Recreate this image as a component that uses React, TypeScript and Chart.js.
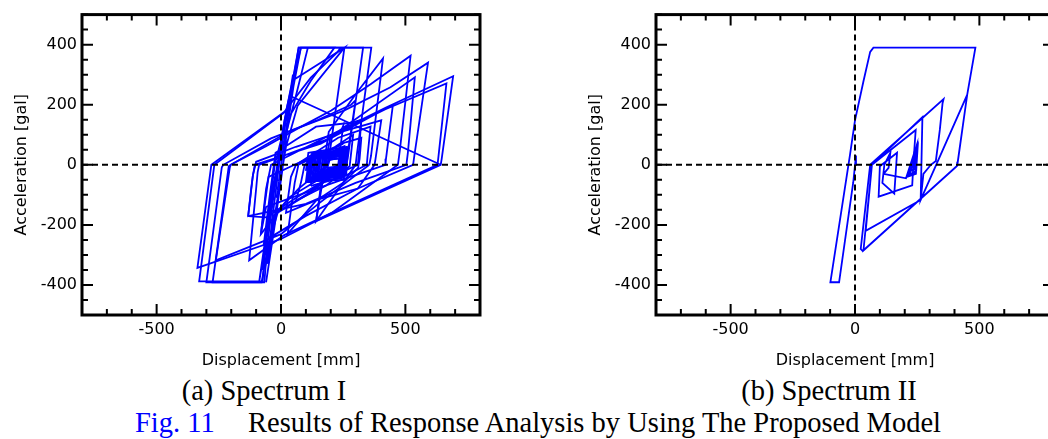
import React, { useEffect, useRef } from 'react';
import { Chart, registerables } from 'chart.js';

Chart.register(...registerables);

// ---- axes ----
const dispRange = [-800, 800];
const accRange = [-500, 500];
const dispStep = 100;
const accStep = 50;
const dispLabels = [-500, 0, 500];
const accLabels = [-400, -200, 0, 200, 400];

// ---- Spectrum I : displacement [mm], acceleration [gal] ----
const spec1Early: number[][] = [
  [0, 0], [8, 45], [-5, -35], [12, 68], [-9, -55], [18, 100], [-14, -85], [22, 125], [-18, -110], [26, 150],
  [45, 262], [60, 335], [71, 390], [255, 390], [195, 35], [188, 0], [70, -80], [-10, -150], [-45, -250],
  [-62, -340], [-67, -391], [-275, -391], [-210, -5], [-202, 0], [-60, 62], [81, 127], [202, 181], [360, 268],
  [521, 363], [478, 50], [470, 0], [202, -161], [0, -247], [-336, -343], [-280, 0], [13, 176], [120, 290],
  [228, 376], [240, 390], [363, 390], [305, 35], [300, 0], [141, -188], [172, 0], [192, 110], [300, 235],
  [410, 354], [362, 30], [355, 0],
];

const spec1Left: number[][] = [
  [355, 0], [150, -130], [0, -231], [-262, -318], [-206, -10], [-202, 0], [30, 110], [255, 181], [440, 258],
  [591, 340], [536, 30], [531, 0], [309, -79], [100, -170], [-60, -250], [-74, -388], [-329, -388],
  [-268, 0], [20, 178], [55, 305], [80, 390], [215, 390], [120, 280], [40, 170], [-30, -60], [-55, -200],
  [-88, -391], [-70, -300], [-40, -130], [0, 60], [40, 250], [71, 390], [108, 390], [60, 230], [0, 40],
  [-30, -100], [-60, -300], [-45, -200], [-20, -40], [10, 130], [35, 230], [642, 0],
];

const spec1Right: number[][] = [
  [642, 0], [141, -188], [178, 0], [200, 100], [420, 190], [692, 295], [646, 20], [642, 0],
  [141, -188], [175, 0], [200, 95], [420, 185], [665, 271], [632, 20], [629, 0], [202, -161],
  [13, -234], [-128, -318], [-100, -80], [-94, -25], [-88, 0], [181, 83], [538, 291], [510, 40],
  [504, 0], [300, -60], [100, -130], [-132, -171], [-113, -35], [-105, 0], [160, 70], [450, 200],
  [422, 20], [420, 0], [255, -47], [40, -110], [-60, -140], [-81, -231], [-60, -80], [-40, 0],
  [200, 100], [403, 148], [380, 20], [376, 0], [309, -79], [150, -115], [20, -160], [40, -40],
  [60, 0], [230, 90], [360, 127], [348, 30], [345, 0], [250, -40], [120, -70],
];

const spec1Mid: number[][] = [
  [-60, -391], [-25, -200], [5, -20], [25, 120], [50, 260], [80, 390], [330, 390], [268, 20], [262, 0],
  [120, -92], [-25, -165], [-52, -270], [-78, -391], [-300, -391], [-238, -8], [-232, 0], [-40, 88],
  [150, 150], [282, 200], [300, 215], [263, 10], [255, 0], [100, -100], [-20, -160], [-42, -265],
  [-75, -350], [-50, -200], [-15, 0], [15, 150], [45, 280], [255, 390], [67, 197], [20, 60], [-10, -90],
  [-38, -240], [-55, -330], [-35, -180], [-5, 20], [22, 160], [48, 300], [30, 180], [-25, 0], [-50, -160],
  [-70, -270], [-45, -100], [-22, 40], [141, 127], [282, 140], [323, 150], [316, 72], [309, 0], [200, -40],
  [80, -100], [-60, -175], [-132, -171],
];

const spec1Low: number[][] = [
  [-132, -171], [-120, -80], [-113, -35], [-100, 10], [60, 60], [240, 110], [250, 130], [236, 40], [230, 0],
  [150, -50], [30, -110], [-81, -231], [-70, -160], [-60, -100], [-50, -40], [80, 10], [260, 75], [323, 90],
  [316, 20], [310, -10], [250, -60], [140, -120], [27, -230], [40, -150], [55, -60], [70, 0], [200, 50],
  [290, 100], [282, 40], [276, -5], [180, -70], [60, -120], [80, -60], [95, 0], [180, 40], [250, 70],
];

const spec1Core: number[][] = [
  [120, -70], [135, 20], [255, 62], [250, -10], [245, -45], [100, -58], [112, 20], [268, 58], [262, -35],
  [108, -50], [122, 30], [260, 50], [252, -40], [115, -45], [130, 35], [270, 55], [258, -30], [125, -40],
  [138, 25], [250, 45], [242, -25], [135, -35], [148, 28], [262, 48], [255, -20], [145, -30], [155, 30],
  [258, 40], [250, -15], [150, -25], [162, 25], [245, 35], [240, -10], [160, -20], [170, 20], [236, 30],
  [232, -5], [180, -10], [190, 15], [228, 22],
];

const spec1Core2: number[][] = [
  [100, -20], [110, 40], [265, 60], [258, -10], [252, -50], [105, -55], [118, 25], [262, 55], [256, -35],
  [110, -42], [125, 38], [268, 48], [260, -28], [118, -48], [132, 30], [255, 52], [248, -38], [128, -52],
  [140, 22], [265, 44], [256, -22], [138, -40], [152, 34], [258, 46], [250, -30], [148, -45], [160, 28],
  [250, 40], [244, -20], [158, -32], [170, 32], [248, 36], [240, -26], [168, -28], [178, 26], [242, 30],
  [236, -12], [175, -20], [186, 22], [238, 28], [232, -8], [185, -14], [196, 18], [232, 20],
];

// ---- Spectrum II ----
const spec2Main: number[][] = [
  [0, 0], [4, 31], [-7, -58], [-64, -391], [-99, -391], [-20, 34], [0, 148], [34, 278], [61, 376], [74, 390],
  [484, 390], [451, 233], [413, 10], [411, -3], [31, -287], [23, -280], [61, 0], [356, 219], [352, 205],
  [341, 116], [325, 13], [305, 0], [275, -30], [264, -117], [451, 233], [413, 8], [409, -5], [34, -285],
  [68, 0], [271, 159], [264, -117], [43, -220], [68, 0], [244, 116], [236, 20], [230, -68], [95, -106],
  [100, -5], [169, 40], [158, -96], [110, -60], [118, 0], [142, 40], [135, -10], [115, -30],
];

const spec2Core: number[][] = [
  [115, -30], [205, -45], [250, 70], [245, -30], [210, -40], [252, 60], [246, -20], [215, -35], [250, 50],
  [242, -25], [220, -30], [248, 40], [238, -15], [225, -20], [245, 30], [235, -10],
];

const lineBlue = '#0000ff';
const sansFont = "'DejaVu Sans', sans-serif";

const framePlugin = {
  id: 'frameTicks',
  afterDatasetsDraw(chart: any) {
    const { ctx, chartArea: a, scales } = chart;
    const xs = scales.x;
    const ys = scales.y;
    ctx.save();
    ctx.strokeStyle = '#000';
    ctx.lineWidth = 2;
    ctx.setLineDash([6, 4]);
    const x0 = xs.getPixelForValue(0);
    const y0 = ys.getPixelForValue(0);
    ctx.beginPath();
    ctx.moveTo(x0, a.top);
    ctx.lineTo(x0, a.bottom);
    ctx.moveTo(a.left, y0);
    ctx.lineTo(a.right, y0);
    ctx.stroke();
    ctx.setLineDash([]);
    ctx.lineWidth = 2;
    ctx.beginPath();
    xs.ticks.forEach((t: any) => {
      const p = xs.getPixelForValue(t.value);
      const len = dispLabels.includes(t.value) ? 11 : 6;
      ctx.moveTo(p, a.bottom);
      ctx.lineTo(p, a.bottom - len);
      ctx.moveTo(p, a.top);
      ctx.lineTo(p, a.top + len);
    });
    ys.ticks.forEach((t: any) => {
      const p = ys.getPixelForValue(t.value);
      const len = accLabels.includes(t.value) ? 11 : 6;
      ctx.moveTo(a.left, p);
      ctx.lineTo(a.left + len, p);
      ctx.moveTo(a.right, p);
      ctx.lineTo(a.right - len, p);
    });
    ctx.stroke();
    ctx.lineWidth = 3;
    ctx.strokeRect(a.left, a.top, a.right - a.left, a.bottom - a.top);
    ctx.restore();
  },
};

function makeDataset(points: number[][]) {
  return {
    data: points.map(([x, y]) => ({ x, y })),
    showLine: true,
    borderColor: lineBlue,
    backgroundColor: lineBlue,
    borderWidth: 1.8,
    pointRadius: 0,
    tension: 0,
    fill: false,
  };
}

function HysteresisChart({ series }: { series: number[][][] }) {
  const ref = useRef<HTMLCanvasElement | null>(null);
  useEffect(() => {
    if (!ref.current) return;
    const chart = new Chart(ref.current, {
      type: 'scatter',
      data: { datasets: series.map(makeDataset) as any },
      options: {
        animation: false,
        responsive: false,
        devicePixelRatio: 1,
        layout: { padding: { top: 9, right: 10, left: 0, bottom: 0 } },
        plugins: { legend: { display: false }, tooltip: { enabled: false } },
        scales: {
          x: {
            type: 'linear',
            min: dispRange[0],
            max: dispRange[1],
            grid: { display: false, drawTicks: false },
            border: { display: false },
            ticks: {
              stepSize: dispStep,
              autoSkip: false,
              maxRotation: 0,
              padding: 5,
              color: '#000',
              font: { family: sansFont, size: 16 },
              callback: (v: any) => (dispLabels.includes(Number(v)) ? String(v) : ''),
            },
            title: {
              display: true,
              text: 'Displacement [mm]',
              color: '#000',
              font: { family: sansFont, size: 16 },
              padding: { top: 0, bottom: 5 },
            },
            afterFit: (s: any) => { s.height = 60; },
          },
          y: {
            type: 'linear',
            min: accRange[0],
            max: accRange[1],
            grid: { display: false, drawTicks: false },
            border: { display: false },
            ticks: {
              stepSize: accStep,
              autoSkip: false,
              padding: 5,
              color: '#000',
              font: { family: sansFont, size: 16 },
              callback: (v: any) => (accLabels.includes(Number(v)) ? String(v) : ''),
            },
            title: {
              display: true,
              text: 'Acceleration [gal]',
              color: '#000',
              font: { family: sansFont, size: 16 },
              padding: { top: 12, bottom: 0 },
            },
            afterFit: (s: any) => { s.width = 82; },
          },
        },
      } as any,
      plugins: [framePlugin],
    });
    return () => chart.destroy();
  }, [series]);
  return <canvas ref={ref} width={490} height={375} style={{ display: 'block', width: 490, height: 375 }} />;
}

const serif = "'Liberation Serif', 'Times New Roman', serif";

const spectrum1Series = [spec1Early, spec1Left, spec1Right, spec1Mid, spec1Low, spec1Core, spec1Core2];
const spectrum2Series = [spec2Main, spec2Core];

export default function App() {
  return (
    <div style={{ position: 'fixed', left: 0, top: 0, width: 1048, height: 439, overflow: 'hidden', background: '#fff' }}>
      <div style={{ position: 'absolute', left: 0, top: 0 }}>
        <HysteresisChart series={spectrum1Series} />
      </div>
      <div style={{ position: 'absolute', left: 574, top: 0 }}>
        <HysteresisChart series={spectrum2Series} />
      </div>
      <div style={{ position: 'absolute', left: 64, top: 377, width: 400, textAlign: 'center', fontFamily: serif, fontSize: 28.5, lineHeight: '28.5px', color: '#000', whiteSpace: 'pre' }}>
        (a) Spectrum I
      </div>
      <div style={{ position: 'absolute', left: 629, top: 377, width: 400, textAlign: 'center', fontFamily: serif, fontSize: 28.5, lineHeight: '28.5px', color: '#000', whiteSpace: 'pre' }}>
        (b) Spectrum II
      </div>
      <div style={{ position: 'absolute', left: 135, top: 409, fontFamily: serif, fontSize: 28.5, lineHeight: '28.5px', color: '#0000ff', whiteSpace: 'pre' }}>
        Fig. 11
      </div>
      <div style={{ position: 'absolute', left: 248, top: 409, fontFamily: serif, fontSize: 28.5, lineHeight: '28.5px', color: '#000', whiteSpace: 'pre' }}>
        Results of Response Analysis by Using The Proposed Model
      </div>
    </div>
  );
}
